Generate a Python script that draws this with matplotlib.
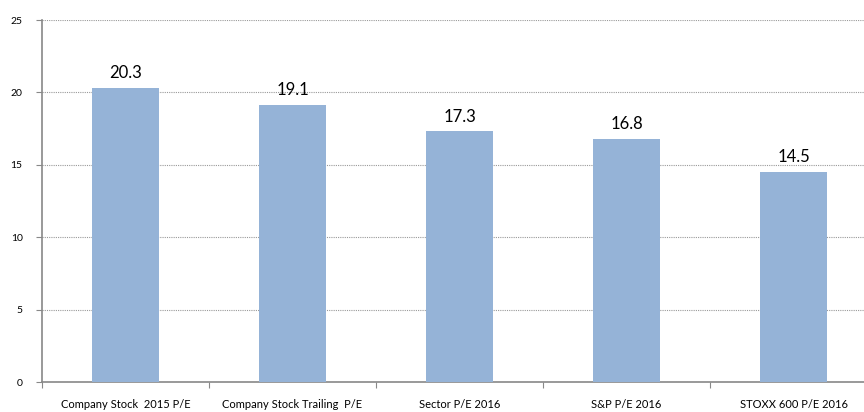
import matplotlib.pyplot as plt
import numpy as np

categorias = ['Company Stock  2015 P/E', 'Company Stock Trailing  P/E',
              'Sector P/E 2016', 'S&P P/E 2016', 'STOXX 600 P/E 2016']
valores = [20.3, 19.1, 17.3, 16.8, 14.5]
yticks = [0, 5, 10, 15, 20, 25]

plt.rcParams['font.family'] = ['Lato', 'DejaVu Sans']

fig = plt.figure(figsize=(8.64, 4.12), dpi=100)
ax = fig.add_axes([42 / 864, 30 / 412, 835 / 864, 362 / 412])

x = np.arange(len(valores))
ax.bar(x, valores, width=0.4, color='#95b3d7', zorder=3)

# rótulos dos valores
for xi, v in zip(x, valores):
    ax.annotate(f'{v:.1f}', (xi, v), xytext=(0, 5), textcoords='offset points',
                ha='center', va='bottom', fontsize=12, color='#000000')

ax.set_xlim(-0.5, len(valores) - 0.5)
ax.set_ylim(0, 25)
ax.set_yticks(yticks)
ax.set_yticklabels([str(t) for t in yticks], fontsize=7.5)
ax.yaxis.grid(True, linestyle=(0, (1, 1)), color='#999999', linewidth=0.8, zorder=0)

# ticks do eixo x nas fronteiras das categorias
ax.set_xticks(np.arange(-0.5, len(valores), 1))
ax.set_xticklabels([])
ax.set_xticks(x, minor=True)
ax.set_xticklabels(categorias, minor=True, fontsize=8)
ax.tick_params(axis='x', which='minor', length=0, pad=12)
ax.tick_params(axis='x', which='major', length=4, color='#888888', direction='out')
ax.tick_params(axis='y', length=4, color='#888888', direction='out', pad=10)

for lado in ['top', 'right']:
    ax.spines[lado].set_visible(False)
for lado in ['left', 'bottom']:
    ax.spines[lado].set_color('#888888')
    ax.spines[lado].set_linewidth(1.2)

fig.savefig('out.png', dpi=100)
